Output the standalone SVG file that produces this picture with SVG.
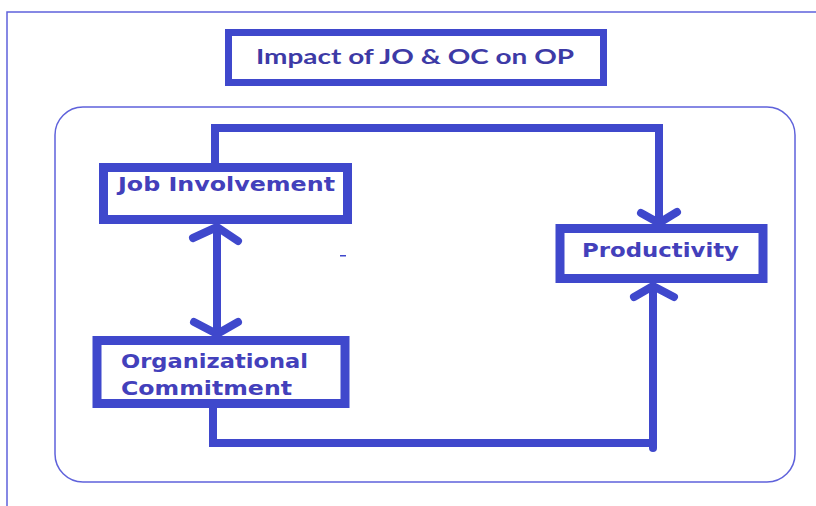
<svg xmlns="http://www.w3.org/2000/svg" width="816" height="506" viewBox="0 0 816 506">
<defs>
<style>
.frame{fill:none;stroke:#5f62db;stroke-width:1.5}
.box{fill:#fff;stroke:#3f48cc;stroke-width:9}
.conn{fill:none;stroke:#3f48cc;stroke-width:8;stroke-linecap:round;stroke-linejoin:miter}
.head{fill:none;stroke:#3f48cc;stroke-width:8;stroke-linecap:round;stroke-linejoin:round}
.lbl{font-family:"DejaVu Sans","Liberation Sans",sans-serif;font-weight:bold;font-size:19px;fill:#4340bb}
.title{font-family:Lato,"Liberation Sans",sans-serif;font-weight:bold;font-size:21px;fill:#3d3aa6}
</style>
</defs>
<rect width="816" height="506" fill="#fff"/>
<rect class="frame" x="7" y="12" width="900" height="600"/>
<rect class="frame" x="55" y="107" width="740" height="375" rx="28" ry="28"/>
<g id="title">
<rect x="228.5" y="32.5" width="375" height="50" fill="#fff" stroke="#3f48cc" stroke-width="7"/>
<text class="title" x="256" y="64" textLength="318" lengthAdjust="spacingAndGlyphs">Impact of JO &amp; OC on OP</text>
</g>
<g id="connectors">
<polyline class="conn" points="215,163 215,128 659,128 659,220"/>
<polyline class="head" points="641,213 659,223 677,212"/>
<polyline class="conn" points="213,408 213,443 653,443"/>
<line class="conn" x1="653" y1="448" x2="653" y2="288"/>
<polyline class="head" points="634,297 653,286 674,297"/>
<line class="conn" x1="217" y1="230" x2="217" y2="330"/>
<polyline class="head" points="193,238 217,227 238,241"/>
<polyline class="head" points="194,322 217,334 238,322"/>
<rect x="340" y="255" width="6" height="1.5" fill="#3f48cc"/>
</g>
<g id="job-involvement">
<rect class="box" x="103.5" y="167.5" width="244" height="52"/>
<text class="lbl" x="118" y="191" textLength="217" lengthAdjust="spacingAndGlyphs">Job Involvement</text>
</g>
<g id="organizational-commitment">
<rect class="box" x="97" y="340.5" width="248" height="63"/>
<text class="lbl" x="121" y="368" textLength="187" lengthAdjust="spacingAndGlyphs">Organizational</text>
<text class="lbl" x="121" y="395" textLength="171" lengthAdjust="spacingAndGlyphs">Commitment</text>
</g>
<g id="productivity">
<rect class="box" x="560" y="228.5" width="203" height="50"/>
<text class="lbl" x="582" y="257" textLength="157" lengthAdjust="spacingAndGlyphs">Productivity</text>
</g>
</svg>
